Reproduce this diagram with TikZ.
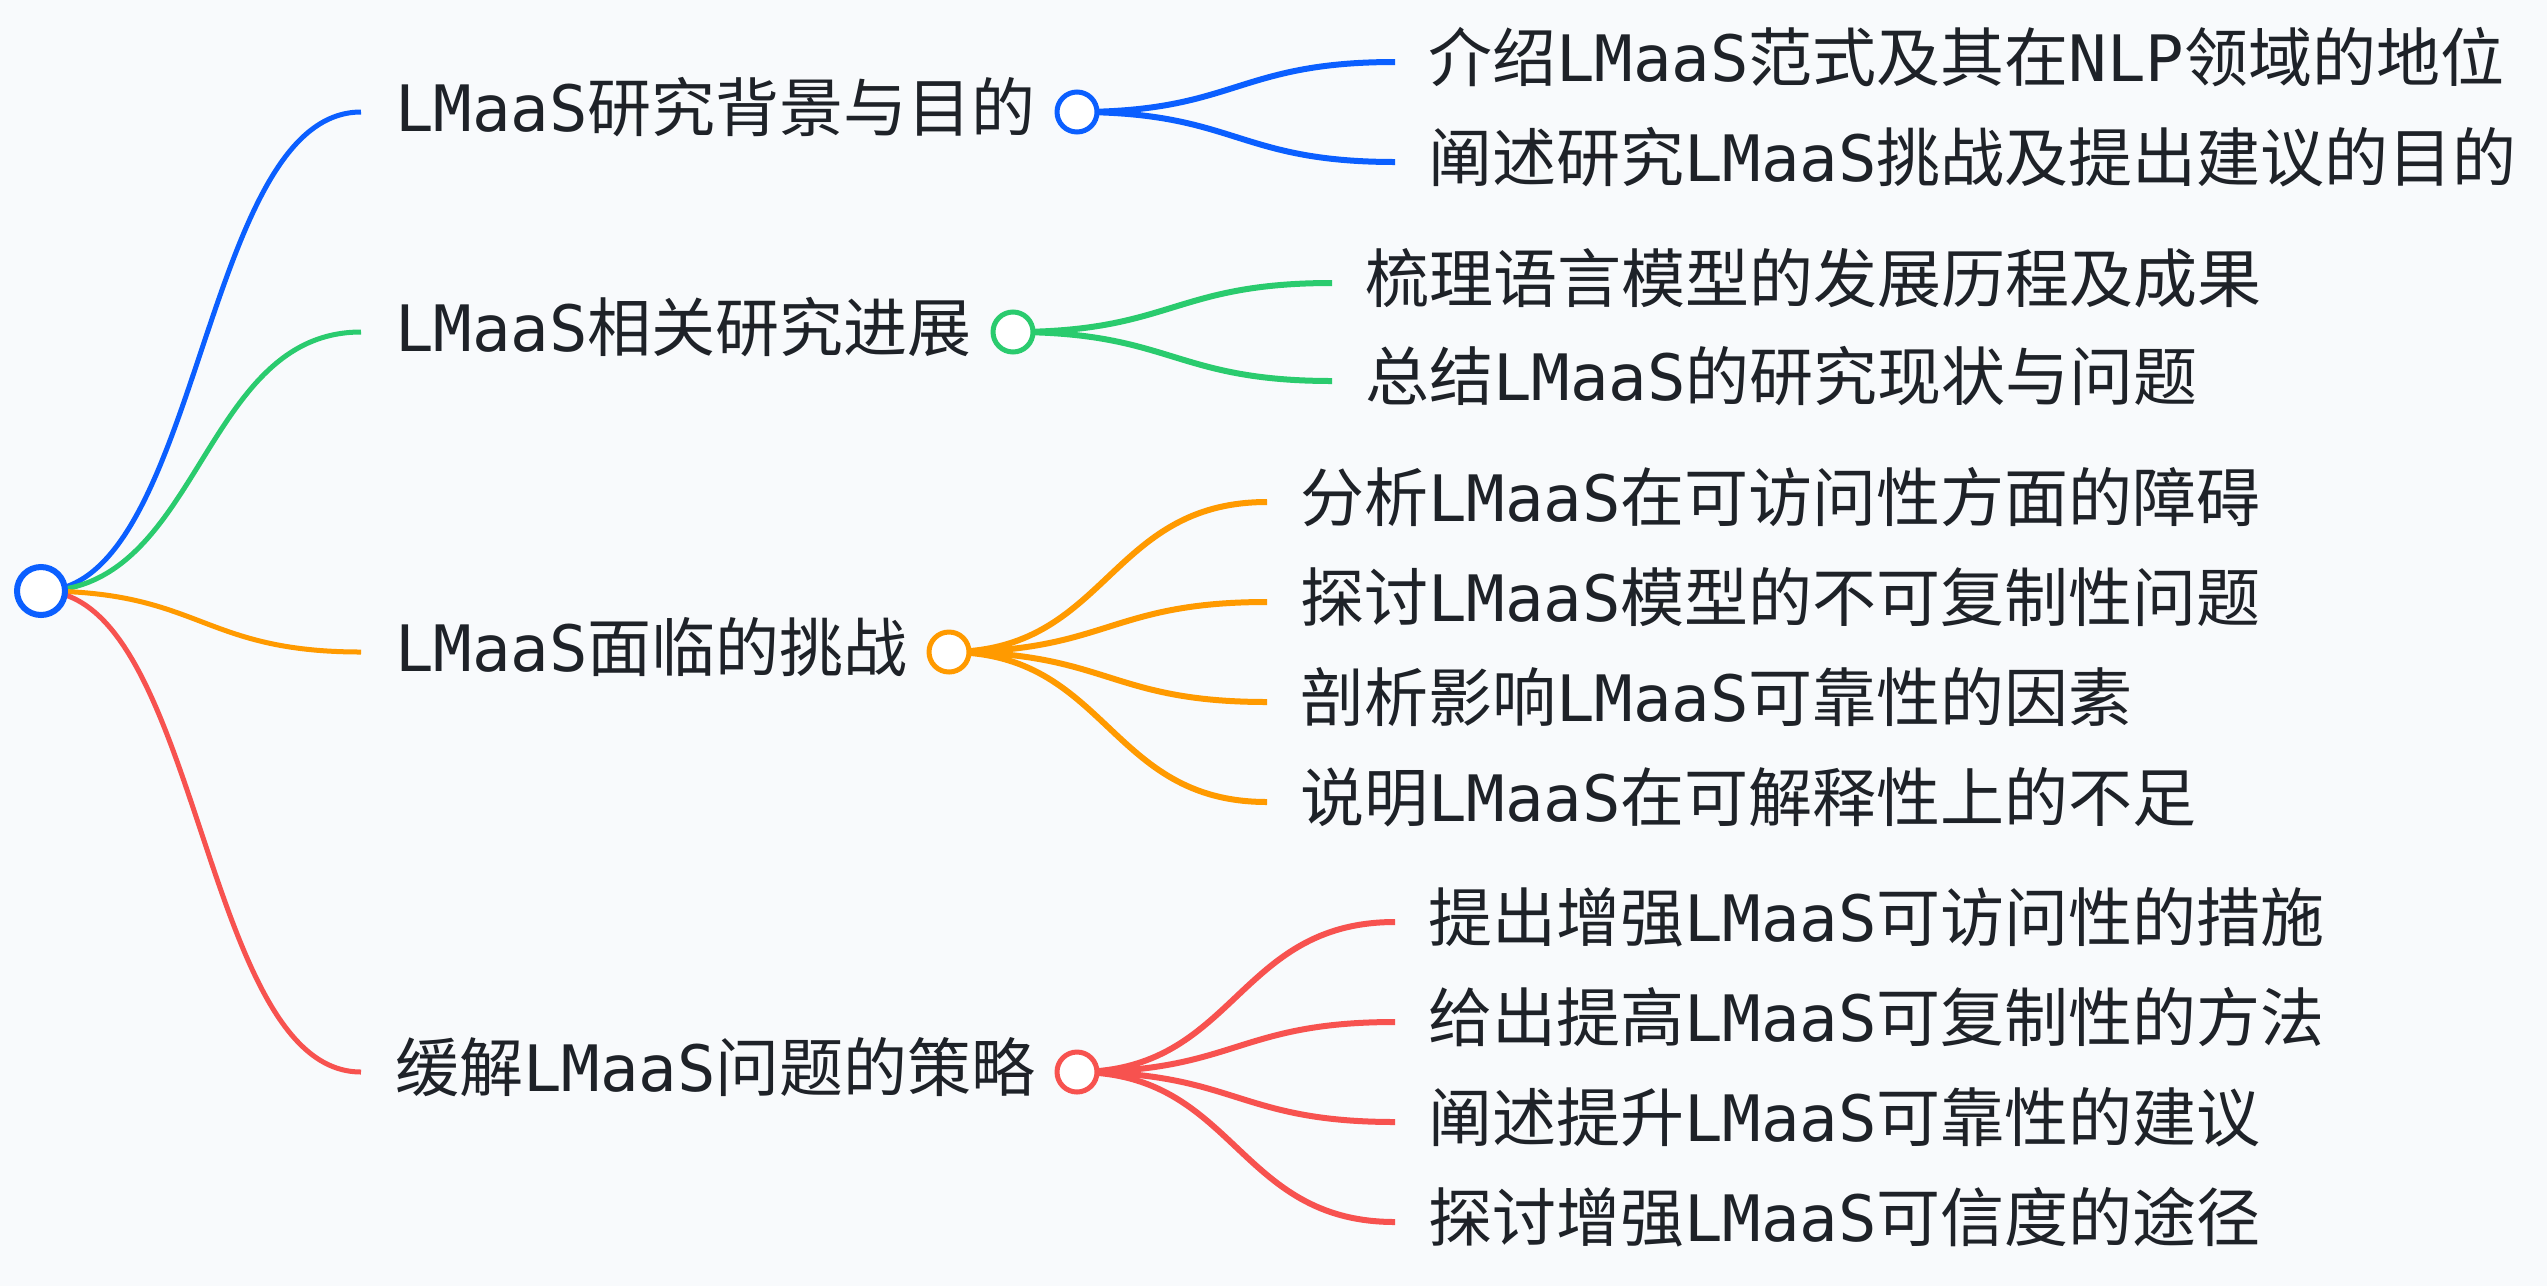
\documentclass[tikz,border=0pt]{standalone}
\usepackage{fontspec}
\setmainfont{Noto Sans CJK SC}
\newfontfamily\latf{DejaVu Sans Mono}
\newcommand\lt[1]{{\latf #1}}
\usetikzlibrary{backgrounds}
\definecolor{bgc}{HTML}{F8FAFC}
\definecolor{txtc}{HTML}{1E2228}
\definecolor{cblue}{HTML}{0B5FFF}
\definecolor{cgreen}{HTML}{2ACB6E}
\definecolor{corange}{HTML}{FF9A00}
\definecolor{cred}{HTML}{F7524F}
\tikzset{
  txt/.style={anchor=base west, inner sep=0pt, text=txtc, font=\fontsize{64pt}{76pt}\selectfont},
  rootdot/.style={circle, draw=#1, line width=6pt, fill=white, minimum size=48pt, inner sep=0pt},
  dot/.style={circle, draw=#1, line width=5pt, fill=white, minimum size=40pt, inner sep=0pt},
  mainline/.style={draw=#1, line width=5pt},
  subline/.style={draw=#1, line width=6pt},
}
\begin{document}
\begin{tikzpicture}[x=1pt,y=-1pt]
\useasboundingbox (0,0) rectangle (2547,1286);
% nodes
\node[rootdot=cblue] (root) at (41,591) {};
\node[dot=cblue]   (n1) at (1077,112) {};
\node[dot=cgreen]  (n2) at (1013,332) {};
\node[dot=corange] (n3) at (949,652) {};
\node[dot=cred]    (n4) at (1077,1072) {};
\coordinate (e1) at (361,112);
\coordinate (e2) at (361,332);
\coordinate (e3) at (361,652);
\coordinate (e4) at (361,1072);
\node[txt] (t1) at (395,131) {\lt{LMaaS}研究背景与目的};
\node[txt] (t2) at (395,351) {\lt{LMaaS}相关研究进展};
\node[txt] (t3) at (395,671) {\lt{LMaaS}面临的挑战};
\node[txt] (t4) at (395,1091) {缓解\lt{LMaaS}问题的策略};
% children end points
\coordinate (b1) at (1395,62);
\coordinate (b2) at (1395,162);
\coordinate (g1) at (1332,283);
\coordinate (g2) at (1332,381);
\coordinate (o1) at (1267,502);
\coordinate (o2) at (1267,602);
\coordinate (o3) at (1267,702);
\coordinate (o4) at (1267,802);
\coordinate (r1) at (1395,922);
\coordinate (r2) at (1395,1022);
\coordinate (r3) at (1395,1122);
\coordinate (r4) at (1395,1222);
\node[txt] (tb1) at (1428,81) {介绍\lt{LMaaS}范式及其在\lt{NLP}领域的地位};
\node[txt] (tb2) at (1428,181) {阐述研究\lt{LMaaS}挑战及提出建议的目的};
\node[txt] (tg1) at (1365,302) {梳理语言模型的发展历程及成果};
\node[txt] (tg2) at (1365,400) {总结\lt{LMaaS}的研究现状与问题};
\node[txt] (to1) at (1300,521) {分析\lt{LMaaS}在可访问性方面的障碍};
\node[txt] (to2) at (1300,621) {探讨\lt{LMaaS}模型的不可复制性问题};
\node[txt] (to3) at (1300,721) {剖析影响\lt{LMaaS}可靠性的因素};
\node[txt] (to4) at (1300,821) {说明\lt{LMaaS}在可解释性上的不足};
\node[txt] (tr1) at (1428,941) {提出增强\lt{LMaaS}可访问性的措施};
\node[txt] (tr2) at (1428,1041) {给出提高\lt{LMaaS}可复制性的方法};
\node[txt] (tr3) at (1428,1141) {阐述提升\lt{LMaaS}可靠性的建议};
\node[txt] (tr4) at (1428,1241) {探讨增强\lt{LMaaS}可信度的途径};
\begin{scope}[on background layer]
\fill[bgc] (0,0) rectangle (2547,1286);
\draw[mainline=cblue]   (root.center) .. controls +(160,0) and +(-160,0) .. (e1);
\draw[mainline=cgreen]  (root.center) .. controls +(160,0) and +(-160,0) .. (e2);
\draw[mainline=corange] (root.center) .. controls +(160,0) and +(-160,0) .. (e3);
\draw[mainline=cred]    (root.center) .. controls +(160,0) and +(-160,0) .. (e4);
\foreach \c in {b1,b2} \draw[subline=cblue] (n1.center) .. controls +(159,0) and +(-159,0) .. (\c);
\foreach \c in {g1,g2} \draw[subline=cgreen] (n2.center) .. controls +(159,0) and +(-159,0) .. (\c);
\foreach \c in {o1,o2,o3,o4} \draw[subline=corange] (n3.center) .. controls +(159,0) and +(-159,0) .. (\c);
\foreach \c in {r1,r2,r3,r4} \draw[subline=cred] (n4.center) .. controls +(159,0) and +(-159,0) .. (\c);
\end{scope}
\end{tikzpicture}
\end{document}
